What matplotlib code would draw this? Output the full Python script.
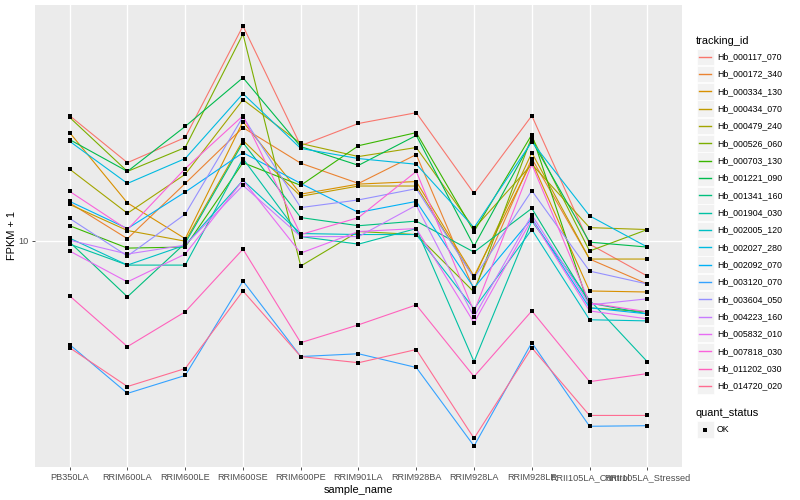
import numpy as np
import matplotlib.pyplot as plt
from matplotlib.patches import Rectangle
from matplotlib.lines import Line2D
from matplotlib.ticker import NullLocator

plt.rcParams['font.family'] = ['Liberation Sans', 'DejaVu Sans']

samples = ['PB350LA', 'RRIM600LA', 'RRIM600LE', 'RRIM600SE', 'RRIM600PE', 'RRIM901LA',
           'RRIM928BA', 'RRIM928LA', 'RRIM928LE', 'RRII105LA_Control', 'RRII105LA_Stressed']

tracking_ids = ['Hb_000117_070', 'Hb_000172_340', 'Hb_000334_130', 'Hb_000434_070',
                'Hb_000479_240', 'Hb_000526_060', 'Hb_000703_130', 'Hb_001221_090',
                'Hb_001341_160', 'Hb_001904_030', 'Hb_002005_120', 'Hb_002027_280',
                'Hb_002092_070', 'Hb_003120_070', 'Hb_003604_050', 'Hb_004223_160',
                'Hb_005832_010', 'Hb_007818_030', 'Hb_011202_030', 'Hb_014720_020']

# ggplot default hue palette for 20 levels
colors = ['#F8766D', '#EA8331', '#D89000', '#C09B00', '#A3A500', '#7CAE00', '#39B600',
          '#00BB4E', '#00BF7D', '#00C1A3', '#00BFC4', '#00BAE0', '#00B0F6', '#35A2FF',
          '#9590FF', '#C77CFF', '#E76BF3', '#FA62DB', '#FF62BC', '#FF6C91']

# FPKM + 1 per sample
hb_000117_070 = [31.8, 20.6, 26.0, 72.9, 24.1, 29.6, 32.7, 15.5, 31.8, 9.70, 7.22]
hb_000172_340 = [14.2, 10.2, 17.0, 28.5, 20.5, 17.0, 22.2, 6.35, 21.4, 8.45, 6.71]
hb_000334_130 = [27.2, 14.2, 10.2, 30.1, 15.4, 16.9, 17.3, 7.22, 20.8, 6.29, 6.23]
hb_000434_070 = [14.0, 11.0, 9.97, 25.3, 15.1, 16.6, 16.6, 7.09, 22.6, 8.45, 8.45]
hb_000479_240 = [19.4, 12.9, 18.5, 36.9, 24.6, 21.8, 23.7, 11.2, 20.3, 11.3, 11.1]
hb_000526_060 = [31.3, 19.0, 23.7, 67.7, 7.92, 10.9, 10.6, 6.23, 26.2, 9.10, 11.1]
hb_000703_130 = [11.5, 9.35, 9.44, 20.6, 16.7, 24.1, 27.2, 10.9, 26.7, 5.38, 5.19]
hb_001221_090 = [25.5, 19.0, 28.8, 45.2, 23.9, 20.1, 26.5, 9.52, 25.3, 9.88, 9.44]
hb_001341_160 = [9.88, 5.96, 9.79, 24.8, 12.4, 11.5, 12.0, 9.01, 13.5, 5.63, 5.09]
hb_001904_030 = [9.70, 7.99, 7.99, 21.4, 10.4, 9.70, 11.2, 3.27, 12.0, 5.79, 3.27]
hb_002005_120 = [10.25, 7.99, 9.61, 17.5, 10.7, 10.6, 10.6, 5.33, 11.1, 4.82, 4.77]
hb_002027_280 = [25.1, 17.0, 21.4, 39.0, 23.5, 21.4, 20.3, 11.3, 25.0, 12.6, 9.44]
hb_002092_070 = [14.4, 11.2, 15.7, 22.6, 17.0, 13.0, 14.4, 6.47, 12.3, 5.38, 5.09]
hb_003120_070 = [3.83, 2.44, 2.88, 6.90, 3.43, 3.52, 3.10, 1.50, 3.90, 1.80, 1.81]
hb_003604_050 = [12.3, 8.69, 12.8, 31.5, 13.6, 14.6, 16.2, 7.09, 15.9, 7.56, 6.71]
hb_004223_160 = [10.06, 8.85, 9.61, 16.7, 10.4, 10.4, 13.9, 4.95, 12.7, 5.53, 5.85]
hb_005832_010 = [9.10, 6.84, 8.85, 17.5, 8.93, 10.9, 11.2, 4.69, 12.2, 5.23, 4.86]
hb_007818_030 = [15.8, 11.1, 19.5, 31.8, 10.6, 12.4, 19.0, 5.19, 20.3, 5.63, 5.19]
hb_011202_030 = [6.01, 3.76, 5.19, 9.26, 3.90, 4.60, 5.53, 2.85, 5.23, 2.72, 2.93]
hb_014720_020 = [3.72, 2.60, 3.07, 6.29, 3.43, 3.24, 3.66, 1.61, 3.72, 1.99, 1.99]

fpkm = [hb_000117_070, hb_000172_340, hb_000334_130, hb_000434_070, hb_000479_240,
        hb_000526_060, hb_000703_130, hb_001221_090, hb_001341_160, hb_001904_030,
        hb_002005_120, hb_002027_280, hb_002092_070, hb_003120_070, hb_003604_050,
        hb_004223_160, hb_005832_010, hb_007818_030, hb_011202_030, hb_014720_020]

W, H = 800, 500
fig = plt.figure(figsize=(W / 100, H / 100), dpi=100)
ax = fig.add_axes([35 / W, 33 / H, 647 / W, 462 / H])
ax.set_facecolor('#EBEBEB')

x = np.arange(len(samples))
for vals, col in zip(fpkm, colors):
    ax.plot(x, vals, color=col, lw=0.8, zorder=2)
for vals in fpkm:
    ax.plot(x, vals, 's', color='black', ms=2.6, mew=0, zorder=3)

# log scale with ggplot-like 5% expansion
ax.set_yscale('log')
allv = np.concatenate([np.array(v) for v in fpkm])
lo, hi = np.log10(allv.min()), np.log10(allv.max())
pad = 0.05 * (hi - lo)
ax.set_ylim(10 ** (lo - pad), 10 ** (hi + pad))
ax.set_xlim(-0.6, len(samples) - 0.4)

ax.set_yticks([10])
ax.set_yticklabels(['10'])
ax.yaxis.set_minor_locator(NullLocator())
ax.set_xticks(x)
ax.set_xticklabels(samples)
ax.grid(True, color='white', lw=1.0, zorder=0)
ax.set_axisbelow(True)
for s in ax.spines.values():
    s.set_visible(False)
ax.tick_params(axis='both', length=2.5, width=0.6, color='#333333',
               labelcolor='#4D4D4D', labelsize=6.6, pad=2)
ax.set_xlabel('sample_name', fontsize=7.9, labelpad=2)
ax.set_ylabel('FPKM + 1', fontsize=7.9, labelpad=1)


# legend drawn by hand in pixel coordinates
def fx(px):
    return px / W


def fy(py):
    return 1 - py / H


fig.text(fx(696), fy(40.5), 'tracking_id', fontsize=7.9, va='center', ha='left')
step = 17.33
for i, (tid, col) in enumerate(zip(tracking_ids, colors)):
    yc = 56.7 + i * step
    fig.add_artist(Rectangle((fx(697), fy(yc + 8.2)), 16.5 / W, 16.4 / H,
                             transform=fig.transFigure, facecolor='#F2F2F2',
                             edgecolor='white', lw=0.5))
    fig.add_artist(Line2D([fx(699), fx(711)], [fy(yc), fy(yc)], transform=fig.transFigure,
                          color=col, lw=1.0))
    fig.text(fx(717), fy(yc), tid, fontsize=6.3, va='center', ha='left')

fig.text(fx(696), fy(412.7), 'quant_status', fontsize=7.9, va='center', ha='left')
fig.add_artist(Rectangle((fx(697), fy(437.7)), 16.5 / W, 16.4 / H,
                         transform=fig.transFigure, facecolor='#F2F2F2',
                         edgecolor='white', lw=0.5))
fig.add_artist(Line2D([fx(705.2)], [fy(429.5)], transform=fig.transFigure, marker='s',
                      color='black', ms=2.6, mew=0))
fig.text(fx(717), fy(429.5), 'OK', fontsize=6.3, va='center', ha='left')

fig.savefig('out.png', dpi=100, facecolor='white')
